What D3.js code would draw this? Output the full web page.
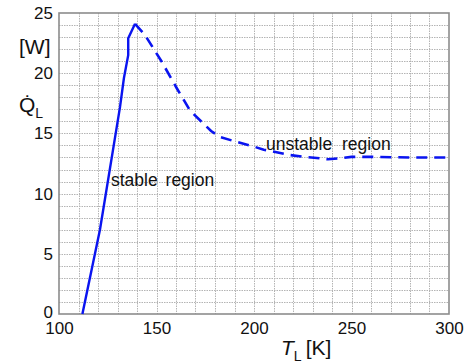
<!DOCTYPE html>
<html>
<head>
<meta charset="utf-8">
<script src="https://cdn.jsdelivr.net/npm/d3@7"></script>
<style>
  html, body { margin: 0; padding: 0; background: #fff; }
  svg { display: block; font-family: "Liberation Sans", Arial, sans-serif; }
</style>
</head>
<body>
<svg id="chart" width="470" height="363"></svg>
<script>
// Cooling power of the load vs. load temperature
const stableT = [112, 121, 131.3, 133.3, 135.5, 135.5, 139];
const stableQ = [0, 7.0, 17.2, 19.6, 21.5, 22.9, 24.1];

const unstableT = [139, 144, 152.7, 160.4, 167.2, 173.2, 178, 182.6, 191, 200, 205, 218.5, 226, 233.8, 238, 243, 250, 260, 280, 300];
const unstableQ = [24.1, 23.2, 20.95, 18.75, 16.9, 15.95, 15.2, 14.7, 14.3, 13.9, 13.65, 13.2, 13.05, 12.93, 12.85, 12.92, 13.05, 13.05, 13.0, 13.0];

const xTicks = [100, 150, 200, 250, 300];
const yTicks = [0, 5, 10, 15, 20, 25];

const svg = d3.select("#chart");
const plotL = 59, plotR = 449, plotT = 13, plotB = 314;

const x = d3.scaleLinear().domain([100, 300]).range([plotL, plotR]);
const y = d3.scaleLinear().domain([0, 25]).range([plotB, plotT]);

// dotted grid
const grid = svg.append("g").attr("stroke", "#b4b4b4").attr("stroke-width", 1)
  .attr("stroke-dasharray", "1.5,1");
grid.selectAll("line.v").data(d3.range(110, 300, 10)).join("line")
  .attr("class", "v")
  .attr("x1", d => Math.round(x(d)) + 0.5).attr("x2", d => Math.round(x(d)) + 0.5)
  .attr("y1", plotT).attr("y2", plotB);
grid.selectAll("line.h").data(d3.range(1, 25, 1)).join("line")
  .attr("class", "h")
  .attr("y1", d => Math.round(y(d)) + 0.5).attr("y2", d => Math.round(y(d)) + 0.5)
  .attr("x1", plotL).attr("x2", plotR);

// frame
svg.append("rect")
  .attr("x", plotL).attr("y", plotT)
  .attr("width", plotR - plotL).attr("height", plotB - plotT)
  .attr("fill", "none").attr("stroke", "#8c8c8c").attr("stroke-width", 1.6);

// axes (labels only)
const xAxis = d3.axisBottom(x).tickValues(xTicks).tickSize(0).tickPadding(8);
const gx = svg.append("g").attr("transform", `translate(0,${plotB})`).call(xAxis);
gx.select(".domain").remove();
gx.selectAll("text").attr("font-size", 17).attr("fill", "#111")
  .attr("font-family", "Liberation Sans, Arial, sans-serif");

const yAxis = d3.axisLeft(y).tickValues(yTicks).tickSize(0).tickPadding(6);
const gy = svg.append("g").attr("transform", `translate(${plotL},0)`).call(yAxis);
gy.select(".domain").remove();
gy.selectAll("text").attr("font-size", 17).attr("fill", "#111")
  .attr("font-family", "Liberation Sans, Arial, sans-serif");
gy.selectAll("text").filter(d => d === 0).attr("dy", "0.2em");

// curves
const line = d3.line().x(d => x(d[0])).y(d => y(d[1]));
svg.append("path")
  .datum(d3.zip(stableT, stableQ))
  .attr("d", line).attr("fill", "none")
  .attr("stroke", "#0a14f0").attr("stroke-width", 2.4)
  .attr("stroke-linejoin", "round");
svg.append("path")
  .datum(d3.zip(unstableT, unstableQ))
  .attr("d", line).attr("fill", "none")
  .attr("stroke", "#0a14f0").attr("stroke-width", 2.6)
  .attr("stroke-dasharray", "11,7");

// region labels
svg.append("text").attr("x", 111).attr("y", 186)
  .attr("font-size", 17.5).attr("fill", "#111").attr("word-spacing", 3).text("stable region");
svg.append("text").attr("x", 266).attr("y", 150)
  .attr("font-size", 17.5).attr("fill", "#111").attr("word-spacing", 5).text("unstable region");

// axis titles
svg.append("text").attr("x", 19).attr("y", 54)
  .attr("font-size", 21).attr("fill", "#111").text("[W]");
const qt = svg.append("text").attr("x", 19).attr("y", 112)
  .attr("font-size", 21).attr("fill", "#111");
qt.append("tspan").text("Q\u0307");
qt.append("tspan").attr("font-size", 14).attr("dy", 6).text("L");

const tt = svg.append("text").attr("x", 281).attr("y", 355)
  .attr("font-size", 21).attr("fill", "#111");
tt.append("tspan").attr("font-style", "italic").text("T");
tt.append("tspan").attr("font-size", 14).attr("dy", 6).text("L");
tt.append("tspan").attr("dy", -6).attr("dx", 4).text("[K]");
</script>
</body>
</html>
